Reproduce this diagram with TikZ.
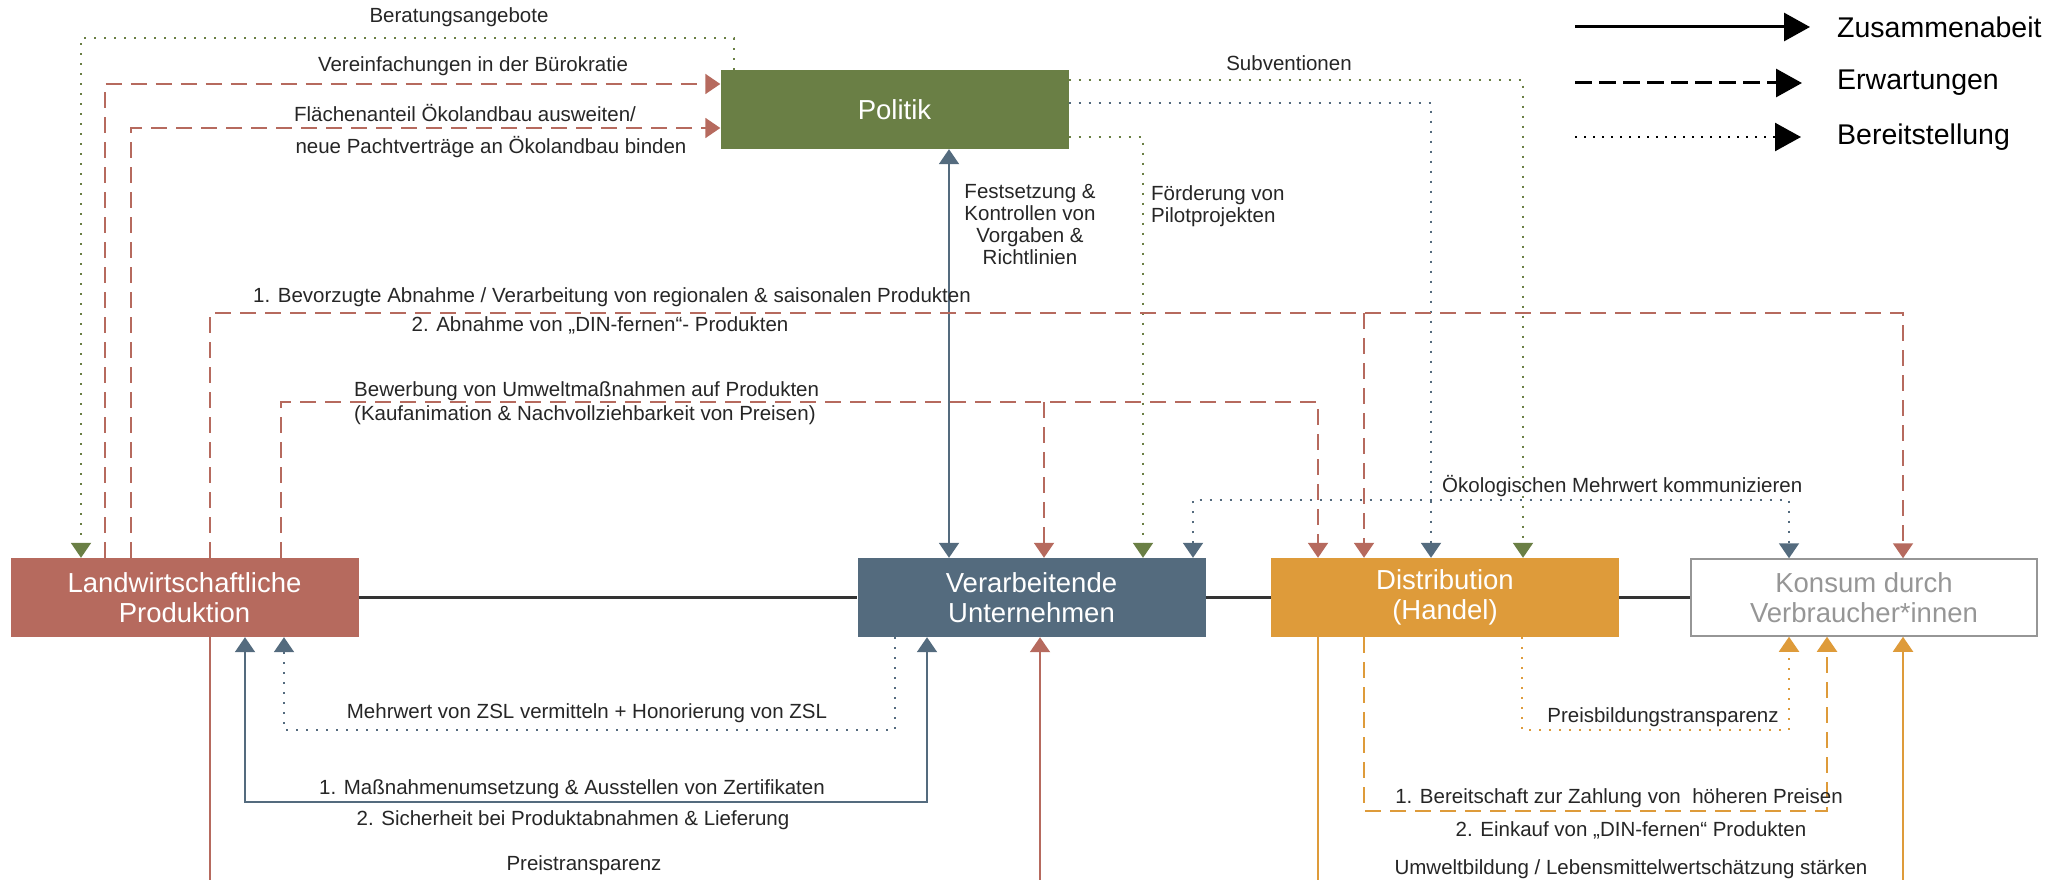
\documentclass[tikz,border=0pt]{standalone}
\usepackage{fontspec}
\setmainfont{Liberation Sans}
\usetikzlibrary{arrows.meta}

\definecolor{lwred}{RGB}{182,106,94}
\definecolor{vublue}{RGB}{84,107,126}
\definecolor{dhorange}{RGB}{222,155,58}
\definecolor{polgreen}{RGB}{106,127,69}
\definecolor{kdgray}{RGB}{150,150,150}

\tikzset{
  akteur/.style={rectangle, minimum width=348pt, minimum height=79pt, inner sep=0pt,
    align=center, text=white, font=\fontsize{27.5}{30}\selectfont},
  txt/.style={inner sep=0pt, text=black!85, align=center, font=\fontsize{20.5}{22}\selectfont},
  zus/.style={line width=2pt},
  erw/.style={line width=2pt, dash pattern=on 16pt off 9pt},
  ber/.style={line width=2pt, dash pattern=on 2pt off 8pt},
  pfeil/.style={-{Triangle[width=20pt,length=15pt]}},
  doppelpfeil/.style={{Triangle[width=20pt,length=15pt]}-{Triangle[width=20pt,length=15pt]}},
  legpfeil/.style={-{Triangle[width=28pt,length=26pt]}, line width=3pt}
}

\begin{document}
\begin{tikzpicture}[x=1pt,y=-1pt]
\useasboundingbox (0,0) rectangle (2067,880);

% Akteure
\node[akteur,fill=polgreen] (pol) at (894.5,109.5) {Politik};
\node[akteur,fill=lwred] (lp) at (184.5,597.5) {Landwirtschaftliche\\Produktion};
\node[akteur,fill=vublue] (vu) at (1031.5,597.5) {Verarbeitende\\Unternehmen};
\node[akteur,fill=dhorange] (dh) at (1445,597.5) {Distribution\\(Handel)};
\node[akteur,draw=kdgray,line width=1.5pt,text=kdgray,minimum width=346pt,minimum height=77pt] (kd) at (1864,597.5) {Konsum durch\\Verbraucher*innen};

\draw[line width=2.5pt,black!80] (lp.east) -- (vu.west);
\draw[line width=2.5pt,black!80] (vu.east) -- (dh.west);
\draw[line width=2.5pt,black!80] (dh.east) -- (kd.west);

% Politik -> Landwirtschaft
\draw[ber,polgreen,pfeil] (pol.north -| 734,0) |- (81,38) -- (lp.north -| 81,0);
\node[txt] (beratung) at (459,17) {Beratungsangebote};
\draw[erw,lwred,pfeil] (lp.north -| 104.5,0) |- (pol.west |- 0,84);
\node[txt] (buerokratie) at (473,66) {Vereinfachungen in der Bürokratie};
\draw[erw,lwred,pfeil] (lp.north -| 131,0) |- (pol.west |- 0,128);
\node[txt] (flaeche) at (465,113) {Flächenanteil Ökolandbau ausweiten/};
\node[txt] (pacht) at (491,147) {neue Pachtverträge an Ökolandbau binden};

% Politik -> Verarbeitung / Handel
\draw[zus,vublue,doppelpfeil] (pol.south -| 949,0) -- (vu.north -| 949,0);
\node[txt] (festsetzung) at (1030,225) {Festsetzung \&\\Kontrollen von\\Vorgaben \&\\Richtlinien};
\draw[ber,polgreen,pfeil] (pol.east |- 0,80) -| (dh.north -| 1523,0);
\node[txt] (subvention) at (1289,63) {Subventionen};
\draw[ber,vublue,pfeil] (pol.east |- 0,103) -| (dh.north -| 1431,0);
\draw[ber,polgreen,pfeil] (pol.east |- 0,137) -| (vu.north -| 1143,0);
\node[txt,align=left,anchor=west] (pilot) at (1151,206) {Förderung von\\Pilotprojekten};

% Landwirtschaft -> Abnehmer
\draw[erw,lwred,pfeil] (lp.north -| 210,0) |- (1903,313) -- (kd.north -| 1903,0);
\draw[erw,lwred,pfeil] (1364,313) -- (dh.north -| 1364,0);
\node[txt] (abnahme1) at (612,297) {1. Bevorzugte Abnahme / Verarbeitung von regionalen \& saisonalen Produkten};
\node[txt] (abnahme2) at (600,325) {2. Abnahme von „DIN-fernen“- Produkten};
\draw[erw,lwred,pfeil] (lp.north -| 281,0) |- (1318,402) -- (dh.north -| 1318,0);
\draw[erw,lwred,pfeil] (1044,402) -- (vu.north -| 1044,0);
\node[txt,anchor=west] (bewerbung1) at (354,391) {Bewerbung von Umweltmaßnahmen auf Produkten};
\node[txt,anchor=west] (bewerbung2) at (354,415) {(Kaufanimation \& Nachvollziehbarkeit von Preisen)};

\draw[ber,vublue,doppelpfeil] (vu.north -| 1193,0) |- (1789,500) -- (kd.north -| 1789,0);
\node[txt,anchor=west] (mehrwert) at (1442,486) {Ökologischen Mehrwert kommunizieren};

% unten
\draw[ber,vublue,pfeil] (vu.south -| 895,0) |- (284,730) -- (lp.south -| 284,0);
\node[txt] (zsl) at (587,713) {Mehrwert von ZSL vermitteln + Honorierung von ZSL};
\draw[zus,vublue,doppelpfeil] (lp.south -| 245,0) |- (927,802) -- (vu.south -| 927,0);
\node[txt] (zert1) at (572,789) {1. Maßnahmenumsetzung \& Ausstellen von Zertifikaten};
\node[txt] (zert2) at (573,820) {2. Sicherheit bei Produktabnahmen \& Lieferung};

\coordinate (lpend) at (210,880);
\coordinate (vuend) at (1040,880);
\draw[zus,lwred] (lp.south -| lpend) -- (lpend);
\draw[zus,lwred,pfeil] (vuend) -- (vu.south -| vuend);
\node[txt] (preis) at (584,865) {Preistransparenz};

\coordinate (dhend) at (1318,880);
\coordinate (kdend) at (1903,880);
\draw[zus,dhorange] (dh.south -| dhend) -- (dhend);
\draw[zus,dhorange,pfeil] (kdend) -- (kd.south -| kdend);
\node[txt] (umwelt) at (1631,869) {Umweltbildung / Lebensmittelwertschätzung stärken};

\draw[ber,dhorange,pfeil] (dh.south -| 1522,0) |- (1789,730) -- (kd.south -| 1789,0);
\node[txt] (preisbildung) at (1663,717) {Preisbildungstransparenz};
\draw[erw,dhorange,pfeil] (dh.south -| 1364,0) |- (1827,811) -- (kd.south -| 1827,0);
\node[txt] (zahlung1) at (1619,798) {1. Bereitschaft zur Zahlung von \ höheren Preisen};
\node[txt] (zahlung2) at (1631,830) {2. Einkauf von „DIN-fernen“ Produkten};

% Legende
\coordinate (leg1a) at (1575,27);  \coordinate (leg1b) at (1810,27);
\coordinate (leg2a) at (1575,83);  \coordinate (leg2b) at (1802,83);
\coordinate (leg3a) at (1575,137); \coordinate (leg3b) at (1801,137);
\draw[legpfeil] (leg1a) -- (leg1b);
\draw[legpfeil,dash pattern=on 17pt off 7pt] (leg2a) -- (leg2b);
\draw[legpfeil,line width=2.5pt,dash pattern=on 2pt off 7pt] (leg3a) -- (leg3b);
\node[txt,anchor=west,text=black,font=\fontsize{28.5}{30}\selectfont] (zusammen) at (1837,27) {Zusammenabeit};
\node[txt,anchor=west,text=black,font=\fontsize{28.5}{30}\selectfont] (erwartung) at (1837,83) {Erwartungen};
\node[txt,anchor=west,text=black,font=\fontsize{28.5}{30}\selectfont] (bereit) at (1837,137) {Bereitstellung};
\end{tikzpicture}
\end{document}
